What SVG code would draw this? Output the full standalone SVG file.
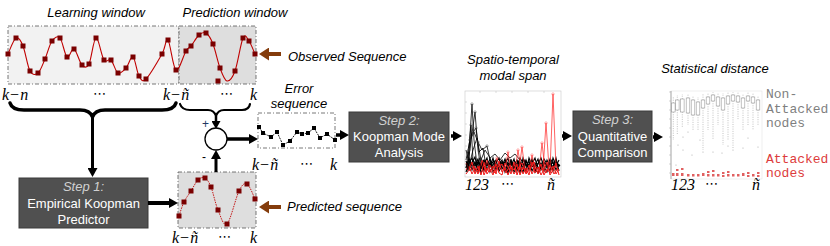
<svg xmlns="http://www.w3.org/2000/svg" width="830" height="246" viewBox="0 0 830 246">
<style>
.t{font-family:"Liberation Sans",Arial,sans-serif;font-size:13px;font-style:italic;fill:#000}
.bt{font-family:"Liberation Sans",Arial,sans-serif;font-size:13px;fill:#fff;text-anchor:middle}
.bs{font-family:"Liberation Sans",Arial,sans-serif;font-size:13px;font-style:italic;fill:#d0d0d0;text-anchor:middle}
.m{font-family:"Liberation Serif","Times New Roman",serif;font-size:16px;font-style:italic;fill:#000}
.dots{font-family:"DejaVu Sans",sans-serif;font-size:13px;fill:#000}
.mono{font-family:"Liberation Mono","Courier New",monospace;font-size:13px}
.win{stroke:#555;stroke-width:0.8;stroke-dasharray:4 2 1 2}
.step{fill:#505050;stroke:#3a3a3a;stroke-width:1}
.sq{fill:#7a0000}
.esq{fill:#000}
.ar{stroke:#000;fill:none}
.br{stroke:#843c0c;stroke-width:4;fill:none}
.bx{fill:none;stroke:#9a9a9a;stroke-width:0.6}
.wh{stroke:#9a9a9a;stroke-width:0.6;stroke-dasharray:1 1.3}
.od{fill:#aaa}
.rd{fill:#e06060}
.kb{fill:none;stroke:#000;stroke-width:1.1}
.kr{fill:none;stroke:#f01818;stroke-width:1}
</style>
<defs>
<marker id="ah" markerUnits="userSpaceOnUse" markerWidth="10" markerHeight="10" refX="4" refY="5" orient="auto">
<path d="M0,0 L9,5 L0,10 z" fill="#000"/>
</marker>
<marker id="ahs" markerUnits="userSpaceOnUse" markerWidth="9" markerHeight="9" refX="3" refY="4.5" orient="auto">
<path d="M0,0 L8,4.5 L0,9 z" fill="#000"/>
</marker>
<marker id="bh" markerUnits="userSpaceOnUse" markerWidth="12" markerHeight="13" refX="3" refY="6.5" orient="auto">
<path d="M0,0 L10,6.5 L0,13 z" fill="#843c0c"/>
</marker>
</defs>
<rect width="830" height="246" fill="#fff"/>

<g id="learning-window">
<text class="t" x="96" y="17" text-anchor="middle">Learning window</text>
<rect class="win" x="8" y="26" width="171" height="58" fill="#f2f2f2"/>
</g>
<g id="prediction-window">
<text class="t" x="235" y="17" text-anchor="middle">Prediction window</text>
<rect class="win" x="179" y="26" width="77" height="58" fill="#dedede"/>
</g>
<g id="observed-signal">
<path d="M8,54 C9.3,51.3 13.5,39.3 16,38 S20.7,40.5 23,46 S27.5,66.5 30,71 S35.5,75 38,73 S42.7,64.3 45,59 S49.5,44.5 52,41 S57.5,35.3 60,38 S64.7,55.2 67,57 S71.5,47.7 74,49 S79.5,62.5 82,65 S86.7,68.5 89,64 S93.5,38.7 96,38 S101.5,56.3 104,60 S108.7,57.8 111,60 S115.5,71.7 118,73 S123.5,70.7 126,68 S130.8,55.7 133,57 S136.8,72.3 139,76 S142.2,82.7 146,79 S158.3,60.5 162,54 S165.7,37.3 168,40 S173,68.2 176,70 S183.5,55 186,51 S188.8,48.7 191,46 S196.5,37.2 199,35 S203.7,31.5 206,33 S210.7,38.2 213,44 S217.7,61.8 220,68 S224.5,80.5 227,81 S232.3,78.2 235,71 S240.7,43 243,38 S247,38.3 249,41 S254,51.8 255,54" fill="none" stroke="#c00000" stroke-width="1.1"/>
<g class="sq">
<rect x="5.5" y="51.5" width="5" height="5"/><rect x="13.5" y="35.5" width="5" height="5"/><rect x="20.5" y="43.5" width="5" height="5"/><rect x="27.5" y="68.5" width="5" height="5"/><rect x="35.5" y="70.5" width="5" height="5"/><rect x="42.5" y="56.5" width="5" height="5"/><rect x="49.5" y="38.5" width="5" height="5"/><rect x="57.5" y="35.5" width="5" height="5"/><rect x="64.5" y="54.5" width="5" height="5"/><rect x="71.5" y="46.5" width="5" height="5"/><rect x="79.5" y="62.5" width="5" height="5"/><rect x="86.5" y="61.5" width="5" height="5"/><rect x="93.5" y="35.5" width="5" height="5"/><rect x="101.5" y="57.5" width="5" height="5"/><rect x="108.5" y="57.5" width="5" height="5"/><rect x="115.5" y="70.5" width="5" height="5"/><rect x="123.5" y="65.5" width="5" height="5"/><rect x="130.5" y="54.5" width="5" height="5"/><rect x="136.5" y="73.5" width="5" height="5"/><rect x="143.5" y="76.5" width="5" height="5"/><rect x="159.5" y="51.5" width="5" height="5"/><rect x="165.5" y="37.5" width="5" height="5"/><rect x="173.5" y="67.5" width="5" height="5"/><rect x="183.5" y="48.5" width="5" height="5"/><rect x="188.5" y="43.5" width="5" height="5"/><rect x="196.5" y="32.5" width="5" height="5"/><rect x="203.5" y="30.5" width="5" height="5"/><rect x="210.5" y="41.5" width="5" height="5"/><rect x="217.5" y="65.5" width="5" height="5"/><rect x="215.5" y="78.5" width="5" height="5"/><rect x="232.5" y="68.5" width="5" height="5"/><rect x="240.5" y="35.5" width="5" height="5"/><rect x="246.5" y="38.5" width="5" height="5"/><rect x="252.5" y="51.5" width="5" height="5"/>
</g>
<text class="m" x="2" y="100">k<tspan font-style="normal" dx="1">−</tspan><tspan dx="1">n</tspan></text>
<text class="dots" x="93" y="98">⋯</text>
<text class="m" x="163" y="100">k<tspan font-style="normal" dx="1">−</tspan><tspan dx="1">ñ</tspan></text>
<text class="dots" x="220" y="98">⋯</text>
<text class="m" x="250" y="100">k</text>
</g>
<g id="observed-label">
<text class="t" x="288" y="61" font-size="12.5">Observed Sequence</text>
</g>

<g id="step1">
<rect class="step" x="19" y="178" width="129" height="50"/>
<text class="bs" x="83.5" y="191">Step 1:</text>
<text class="bt" x="83.5" y="208">Empirical Koopman</text>
<text class="bt" x="83.5" y="224">Predictor</text>
</g>

<g id="predicted-sequence">
<rect class="win" x="178" y="172" width="78" height="56" fill="#dedede"/>
<path d="M179,216 C179.8,213.7 182,206.2 184,202 S188.7,194.7 191,191 S195.7,182.2 198,180 S202.8,176.8 205,178 S208.8,181.7 211,187 S215.3,203.8 218,210 S223.5,227.2 227,224 S235.7,197.7 239,191 S244.3,182.7 247,184 S253.7,196.5 255,199" fill="none" stroke="#c00000" stroke-width="0.9" stroke-dasharray="1.5 1"/>
<g class="sq">
<rect x="176.5" y="213.5" width="5" height="5"/><rect x="181.5" y="199.5" width="5" height="5"/><rect x="188.5" y="188.5" width="5" height="5"/><rect x="195.5" y="177.5" width="5" height="5"/><rect x="202.5" y="175.5" width="5" height="5"/><rect x="208.5" y="184.5" width="5" height="5"/><rect x="215.5" y="207.5" width="5" height="5"/><rect x="224.5" y="221.5" width="5" height="5"/><rect x="236.5" y="188.5" width="5" height="5"/><rect x="244.5" y="181.5" width="5" height="5"/><rect x="252.5" y="196.5" width="5" height="5"/>
</g>
<text class="m" x="172" y="243">k<tspan font-style="normal" dx="1">−</tspan><tspan dx="1">ñ</tspan></text>
<text class="dots" x="218" y="241">⋯</text>
<text class="m" x="250" y="243">k</text>
<text class="t" x="287" y="211" font-size="12.5">Predicted sequence</text>
</g>

<g id="sum">
<circle cx="216" cy="139" r="11" fill="#fff" stroke="#000" stroke-width="1.3"/>
<text x="202" y="128" font-family="Liberation Sans,Arial,sans-serif" font-size="12" fill="#1f3864">+</text>
<text x="202" y="161" font-family="Liberation Sans,Arial,sans-serif" font-size="12" fill="#000">-</text>
</g>

<g id="error-sequence">
<text class="t" x="299" y="93" text-anchor="middle">Error</text>
<text class="t" x="299" y="108" text-anchor="middle">sequence</text>
<rect class="win" x="258" y="113" width="77" height="35" fill="#fff"/>
<polyline points="259,127 263,133 271,137 277,132 283,145 290,141 297,132 302,134 308,133 314,128 320,138 327,134 335,140" fill="none" stroke="#000" stroke-width="0.9" stroke-dasharray="2 1"/>
<g class="esq">
<rect x="257" y="125" width="4" height="4"/><rect x="261" y="131" width="4" height="4"/><rect x="269" y="135" width="4" height="4"/><rect x="275" y="130" width="4" height="4"/><rect x="281" y="143" width="4" height="4"/><rect x="288" y="139" width="4" height="4"/><rect x="295" y="130" width="4" height="4"/><rect x="300" y="132" width="4" height="4"/><rect x="306" y="131" width="4" height="4"/><rect x="312" y="126" width="4" height="4"/><rect x="318" y="136" width="4" height="4"/><rect x="325" y="132" width="4" height="4"/><rect x="333" y="138" width="4" height="4"/>
</g>
<text class="m" x="252" y="170">k<tspan font-style="normal" dx="1">−</tspan><tspan dx="1">ñ</tspan></text>
<text class="dots" x="300" y="168">⋯</text>
<text class="m" x="330" y="170">k</text>
</g>

<g id="step2">
<rect class="step" x="349" y="112" width="100" height="50"/>
<text class="bs" x="399" y="125">Step 2:</text>
<text class="bt" x="399" y="141">Koopman Mode</text>
<text class="bt" x="399" y="157">Analysis</text>
</g>

<g id="modal-span">
<text class="t" x="513" y="64" text-anchor="middle">Spatio-temporal</text>
<text class="t" x="513" y="80" text-anchor="middle">modal span</text>
<rect x="465" y="91" width="96" height="86" fill="#fff" stroke="#c8c8c8" stroke-width="0.6"/>
<g stroke="#bbb" stroke-width="0.5">
<line x1="465" y1="102" x2="467" y2="102"/><line x1="465" y1="113" x2="467" y2="113"/><line x1="465" y1="124" x2="467" y2="124"/><line x1="465" y1="135" x2="467" y2="135"/><line x1="465" y1="146" x2="467" y2="146"/><line x1="465" y1="157" x2="467" y2="157"/>
<line x1="480" y1="91" x2="480" y2="93"/><line x1="496" y1="91" x2="496" y2="93"/><line x1="512" y1="91" x2="512" y2="93"/><line x1="528" y1="91" x2="528" y2="93"/><line x1="544" y1="91" x2="544" y2="93"/>
</g>
<polyline class="kb" points="466,165 469,160 472,170 475,162 478,168 481,159 484,171 487,163 490,167 493,158 496,170 499,164 502,160 505,172 508,163 511,166 514,159 517,171 520,162 523,168 526,160 529,170 532,164 535,158 538,169 541,163 544,171 547,160 550,166 553,162 556,170 559,164"/>
<polyline class="kb" points="466,172 469,163 472,158 475,171 478,161 481,169 484,164 487,158 490,172 493,165 496,160 499,171 502,166 505,159 508,170 511,161 514,168 517,163 520,173 523,158 526,166 529,161 532,171 535,165 538,159 541,170 544,162 547,168 550,159 553,171 556,161 559,167"/>
<polyline class="kb" points="466,161 469,169 472,163 475,157 478,172 481,164 484,160 487,170 490,162 493,168 496,163 499,158 502,169 505,164 508,158 511,171 514,165 517,160 520,167 523,172 526,161 529,166 532,159 535,172 538,164 541,158 544,167 547,172 550,163 553,167 556,158 559,171"/>
<polyline class="kb" points="466,168 469,158 472,166 475,165 478,159 481,173 484,167 487,165 490,159 493,172 496,166 499,168 502,162 505,167 508,173 511,159 514,172 517,167 520,158 523,163 526,171 529,158 532,166 535,169 538,173 541,166 544,159 547,164 550,171 553,158 556,166 559,160"/>
<polyline class="kb" points="467,163 470,167 473,160 476,166 479,163 482,168 485,161 488,166 491,164 494,161 497,167 500,162 503,165 506,160 509,166 512,163 515,168 518,161 521,164 524,160 527,167 530,163 533,161 536,166 539,162 542,166 545,163 548,167 551,160 554,165 557,163 560,166"/>
<polyline class="kr" points="466,170 469,166 472,174 475,168 478,171 481,163 484,175 487,168 490,172 493,166 496,174 499,161 502,172 505,168 508,175 511,167 514,170 517,164 520,175 523,167 526,173 529,165 532,174 535,168 538,172 541,164 544,175 547,169 550,173 553,166 556,174 559,169"/>
<polyline class="kr" points="466,174 469,170 472,162 475,174 478,166 481,175 484,162 487,174 490,169 493,175 496,164 499,173 502,175 505,163 508,167 511,174 514,162 517,175 520,166 523,174 526,168 529,175 532,162 535,173 538,167 541,175 544,169 547,162 550,175 553,170 556,163 559,175"/>
<polyline class="kr" points="466,163 470,171 474,166 478,174 482,160 486,172 490,165 494,173 498,167 502,164 506,173 510,165 514,174 518,168 522,163 526,174 530,169 534,162 538,174 542,168 546,173 550,165 554,174 558,168"/>
<g fill="none" stroke="#000" stroke-width="0.8">
<polyline points="466,168 469,150 472,104 474,140 477,165 480,158"/>
<polyline points="467,172 470,148 475,112 478,150 481,168 484,160"/>
<polyline points="468,170 471,135 476,128 479,152 483,148 486,166"/>
<polyline points="466,160 470,140 474,132 478,142 482,150 487,146 490,160 494,164"/>
<polyline points="469,166 473,150 477,138 481,160 485,150 489,156 493,166"/>
<polyline points="466,150 468,158 471,125 473,160"/>
<polyline points="490,158 495,154 500,160 505,153 510,158 515,154 520,160"/>
</g>
<g fill="none" stroke="#555" stroke-width="0.5">
<circle cx="472" cy="104" r="1.2"/><circle cx="475" cy="112" r="1.2"/><circle cx="471" cy="125" r="1.2"/><circle cx="476" cy="128" r="1.2"/><circle cx="474" cy="132" r="1.2"/><circle cx="469" cy="150" r="1.2"/><circle cx="478" cy="142" r="1.2"/><circle cx="481" cy="160" r="1.2"/><circle cx="487" cy="146" r="1.2"/><circle cx="470" cy="140" r="1.2"/>
</g>
<g fill="none" stroke="#ff2020" stroke-width="0.7">
<polyline points="550,170 553,94 556,168"/>
<polyline points="543,170 546,123 549,168"/>
<polyline points="539,171 542,143 545,170"/>
<polyline points="529,170 532,155 535,168"/>
<polyline points="519,170 522,147 525,170"/>
<polyline points="515,171 518,150 521,170"/>
<polyline points="505,170 508,152 511,170"/>
<polyline points="494,168 497,158 500,170"/>
<polyline points="484,172 487,160 490,171"/>
</g>
<g fill="none" stroke="#ff6060" stroke-width="0.5">
<circle cx="553" cy="94" r="1.2"/><circle cx="546" cy="123" r="1.2"/><circle cx="542" cy="143" r="1.2"/><circle cx="532" cy="155" r="1.2"/><circle cx="522" cy="147" r="1.2"/><circle cx="518" cy="150" r="1.2"/><circle cx="508" cy="152" r="1.2"/><circle cx="497" cy="158" r="1.2"/>
</g>
<text class="m" x="465" y="190">123</text>
<text class="dots" x="501" y="188">⋯</text>
<text class="m" x="547" y="190">ñ</text>
</g>

<g id="step3">
<rect class="step" x="573" y="111" width="79" height="51"/>
<text class="bs" x="612.5" y="124">Step 3:</text>
<text class="bt" x="612.5" y="141">Quantitative</text>
<text class="bt" x="612.5" y="157">Comparison</text>
</g>

<g id="statistical-distance">
<text class="t" x="715" y="73" text-anchor="middle">Statistical distance</text>
<rect x="671" y="91" width="91" height="88" fill="#fff" stroke="#e4e4e4" stroke-width="0.6"/>
<line x1="671" y1="91" x2="671" y2="179" stroke="#8a8a8a" stroke-width="0.7"/>
<g stroke="#aaa" stroke-width="0.5">
<line x1="669" y1="92" x2="671" y2="92"/><line x1="669" y1="101" x2="671" y2="101"/><line x1="669" y1="110" x2="671" y2="110"/><line x1="669" y1="119" x2="671" y2="119"/><line x1="669" y1="128" x2="671" y2="128"/><line x1="669" y1="137" x2="671" y2="137"/><line x1="669" y1="146" x2="671" y2="146"/><line x1="669" y1="155" x2="671" y2="155"/><line x1="669" y1="164" x2="671" y2="164"/><line x1="669" y1="173" x2="671" y2="173"/>
</g>
<g>
<rect class="bx" x="671.5" y="103" width="3.6" height="9"/><line class="wh" x1="673.3" y1="112" x2="673.3" y2="140"/><line class="wh" x1="673.3" y1="103" x2="673.3" y2="97"/>
<rect class="bx" x="675.5" y="100" width="3.6" height="10"/><line class="wh" x1="677.3" y1="110" x2="677.3" y2="135"/><line class="wh" x1="677.3" y1="100" x2="677.3" y2="95"/>
<rect class="bx" x="680.5" y="99" width="3.6" height="13"/><line class="wh" x1="682.3" y1="112" x2="682.3" y2="128"/><line class="wh" x1="682.3" y1="99" x2="682.3" y2="94"/>
<rect class="bx" x="686.2" y="98" width="3.6" height="15"/><line class="wh" x1="688" y1="113" x2="688" y2="125"/><line class="wh" x1="688" y1="98" x2="688" y2="94"/>
<rect class="bx" x="691.2" y="100" width="3.6" height="15"/><line class="wh" x1="693" y1="115" x2="693" y2="130"/><line class="wh" x1="693" y1="100" x2="693" y2="96"/>
<rect class="bx" x="696.2" y="102" width="3.6" height="13"/><line class="wh" x1="698" y1="115" x2="698" y2="130"/><line class="wh" x1="698" y1="102" x2="698" y2="97"/>
<rect class="bx" x="701.2" y="100" width="3.6" height="8"/><line class="wh" x1="703" y1="108" x2="703" y2="150"/><line class="wh" x1="703" y1="100" x2="703" y2="94"/>
<rect class="bx" x="706.2" y="97" width="3.6" height="7"/><line class="wh" x1="708" y1="104" x2="708" y2="130"/><line class="wh" x1="708" y1="97" x2="708" y2="93"/>
<rect class="bx" x="711.2" y="95" width="3.6" height="6"/><line class="wh" x1="713" y1="101" x2="713" y2="140"/><line class="wh" x1="713" y1="95" x2="713" y2="92"/>
<rect class="bx" x="716.2" y="97" width="3.6" height="9"/><line class="wh" x1="718" y1="106" x2="718" y2="125"/><line class="wh" x1="718" y1="97" x2="718" y2="93"/>
<rect class="bx" x="721.2" y="98" width="3.6" height="12"/><line class="wh" x1="723" y1="110" x2="723" y2="145"/><line class="wh" x1="723" y1="98" x2="723" y2="93"/>
<rect class="bx" x="726.2" y="96" width="3.6" height="8"/><line class="wh" x1="728" y1="104" x2="728" y2="140"/><line class="wh" x1="728" y1="96" x2="728" y2="92"/>
<rect class="bx" x="731.2" y="95" width="3.6" height="6"/><line class="wh" x1="733" y1="101" x2="733" y2="148"/><line class="wh" x1="733" y1="95" x2="733" y2="92"/>
<rect class="bx" x="736.2" y="96" width="3.6" height="6"/><line class="wh" x1="738" y1="102" x2="738" y2="120"/><line class="wh" x1="738" y1="96" x2="738" y2="92"/>
<rect class="bx" x="741.2" y="98" width="3.6" height="10"/><line class="wh" x1="743" y1="108" x2="743" y2="130"/><line class="wh" x1="743" y1="98" x2="743" y2="94"/>
<rect class="bx" x="746.2" y="96" width="3.6" height="5"/><line class="wh" x1="748" y1="101" x2="748" y2="125"/><line class="wh" x1="748" y1="96" x2="748" y2="92"/>
<rect class="bx" x="751.2" y="97" width="3.6" height="6"/><line class="wh" x1="753" y1="103" x2="753" y2="130"/><line class="wh" x1="753" y1="97" x2="753" y2="93"/>
<rect class="bx" x="756.2" y="100" width="3.6" height="10"/><line class="wh" x1="758" y1="110" x2="758" y2="125"/><line class="wh" x1="758" y1="100" x2="758" y2="96"/>
</g>
<g class="od">
<circle cx="678" cy="145" r="0.6"/><circle cx="683" cy="150" r="0.6"/><circle cx="692" cy="155" r="0.6"/><circle cx="703" cy="152" r="0.6"/><circle cx="713" cy="152" r="0.6"/><circle cx="722" cy="153" r="0.6"/><circle cx="733" cy="150" r="0.6"/><circle cx="743" cy="148" r="0.6"/><circle cx="758" cy="147" r="0.6"/><circle cx="683" cy="137" r="0.6"/><circle cx="700" cy="140" r="0.6"/><circle cx="688" cy="132" r="0.6"/><circle cx="748" cy="138" r="0.6"/><circle cx="728" cy="146" r="0.6"/><circle cx="676" cy="165" r="0.6"/>
</g>
<g class="rd">
<rect x="672" y="173" width="2.5" height="3"/><rect x="676" y="169" width="2.5" height="2"/><rect x="676" y="173" width="2.5" height="3"/><rect x="681" y="168" width="2.5" height="2"/><rect x="681" y="173" width="2.5" height="3"/><rect x="687" y="174" width="2.5" height="2.5"/><rect x="692" y="174" width="2.5" height="2.5"/><rect x="697" y="174" width="2.5" height="2.5"/><rect x="702" y="173" width="2.5" height="3"/><rect x="707" y="171" width="2.5" height="2"/><rect x="707" y="174" width="2.5" height="2.5"/><rect x="712" y="170" width="2.5" height="2"/><rect x="712" y="174" width="2.5" height="2.5"/><rect x="717" y="174" width="2.5" height="2.5"/><rect x="722" y="172" width="2.5" height="2"/><rect x="722" y="175" width="2.5" height="2"/><rect x="727" y="171" width="2.5" height="2"/><rect x="727" y="174" width="2.5" height="2.5"/><rect x="732" y="174" width="2.5" height="2.5"/><rect x="737" y="174" width="2.5" height="2.5"/><rect x="742" y="173" width="2.5" height="3"/><rect x="747" y="172" width="2.5" height="2"/><rect x="747" y="175" width="2.5" height="2"/><rect x="752" y="174" width="2.5" height="2.5"/><rect x="757" y="172" width="2.5" height="2"/><rect x="757" y="175" width="2.5" height="2"/>
</g>
<text class="mono" x="766" y="98" fill="#7f7f7f">Non-</text>
<text class="mono" x="766" y="113" fill="#7f7f7f">Attacked</text>
<text class="mono" x="766" y="127" fill="#7f7f7f">nodes</text>
<text class="mono" x="766" y="163" fill="#dd3c3c">Attacked</text>
<text class="mono" x="766" y="177" fill="#dd3c3c">nodes</text>
<text class="m" x="671" y="190">123</text>
<text class="dots" x="705" y="188">⋯</text>
<text class="m" x="752" y="190">ñ</text>
</g>

<g id="connectors">
<path class="ar" stroke-width="3.5" stroke-linecap="round" d="M10,103 Q12,110 24,110 L80,110 Q90,110 92.5,117 Q95,110 105,110 L162,110 Q174,110 176,103"/>
<path class="ar" stroke-width="2.2" stroke-linecap="round" d="M180,104 Q182,110 190,110 L208,110 Q214,110 216,116 Q218,110 224,110 L242,110 Q249,110 250,104"/>
<line class="ar" x1="92.5" y1="116" x2="92.5" y2="172" stroke-width="3" marker-end="url(#ah)"/>
<line class="ar" x1="216" y1="116" x2="216" y2="124" stroke-width="2.5" marker-end="url(#ahs)"/>
<line class="ar" x1="216" y1="172" x2="216" y2="155" stroke-width="3" marker-end="url(#ah)"/>
<line class="ar" x1="148" y1="203" x2="173" y2="203" stroke-width="4" marker-end="url(#ah)"/>
<line class="ar" x1="227" y1="139" x2="253" y2="139" stroke-width="3.5" marker-end="url(#ah)"/>
<line class="ar" x1="336" y1="135" x2="344" y2="135" stroke-width="3.5" marker-end="url(#ah)"/>
<line class="ar" x1="451" y1="136" x2="457" y2="136" stroke-width="3.5" marker-end="url(#ah)"/>
<line class="ar" x1="562" y1="136" x2="567" y2="136" stroke-width="3.5" marker-end="url(#ah)"/>
<line class="ar" x1="653" y1="137" x2="658" y2="137" stroke-width="3.5" marker-end="url(#ah)"/>
<line class="br" x1="281" y1="54" x2="266" y2="54" marker-end="url(#bh)"/>
<line class="br" x1="281" y1="207" x2="266" y2="207" marker-end="url(#bh)"/>
</g>
</svg>
